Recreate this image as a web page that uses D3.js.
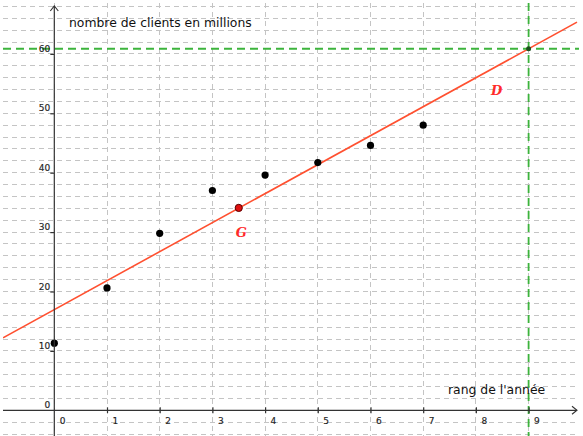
<!DOCTYPE html>
<html><head><meta charset="utf-8">
<script src="https://cdn.jsdelivr.net/npm/d3@7/dist/d3.min.js"></script>
<style>body{margin:0;background:#fff}svg{display:block}</style>
</head><body><svg id="c" width="583" height="436"></svg>
<script>
// ---- data ----
const years = [0, 1, 2, 3, 4, 5, 6, 7];
const clients = [11.3, 20.6, 29.8, 37, 39.6, 41.7, 44.6, 48];
const xTicks = [0, 1, 2, 3, 4, 5, 6, 7, 8, 9];
const yTicks = [0, 10, 20, 30, 40, 50, 60];
const lineSlope = 4.88;
const lineIntercept = 16.95;
const predictYear = 9;
const yTitle = "nombre de clients en millions";
const xTitle = "rang de l'année";

const W = 583, H = 436;
const svg = d3.select("#c");
svg.append("rect").attr("width", W).attr("height", H).attr("fill", "#fff");

const x = d3.scaleLinear().domain([0, 9]).range([54.3, 528.6]);
const y = d3.scaleLinear().domain([0, 60]).range([410.3, 53.9]);
const clipBox = {x0: 3, y0: 3, x1: 579, y1: 436};

svg.append("defs").append("clipPath").attr("id", "clip")
  .append("rect").attr("x", clipBox.x0).attr("y", clipBox.y0)
  .attr("width", clipBox.x1 - clipBox.x0).attr("height", clipBox.y1 - clipBox.y0);

const plot = svg.append("g").attr("clip-path", "url(#clip)");

// grid
const gx = d3.range(-1, 11);
const gy = d3.range(-4, 72, 2);
plot.append("g").selectAll("line").data(gy).join("line")
  .attr("x1", clipBox.x0).attr("x2", clipBox.x1)
  .attr("y1", d => y(d)).attr("y2", d => y(d))
  .attr("stroke", "#c4c4c4").attr("stroke-width", 1).attr("stroke-dasharray", "5,4")
  .attr("shape-rendering", "crispEdges");
plot.append("g").selectAll("line").data(gx).join("line")
  .attr("y1", clipBox.y0).attr("y2", clipBox.y1)
  .attr("x1", d => x(d)).attr("x2", d => x(d))
  .attr("stroke", "#c4c4c4").attr("stroke-width", 1).attr("stroke-dasharray", "5,4")
  .attr("shape-rendering", "crispEdges");

// axes lines
const axisCol = "#333";
svg.append("line").attr("x1", clipBox.x0).attr("x2", 577).attr("y1", y(0)).attr("y2", y(0))
  .attr("stroke", axisCol).attr("stroke-width", 1.2);
svg.append("path").attr("d", `M${572},${y(0)-4}L${577},${y(0)}L${572},${y(0)+4}`)
  .attr("fill", "none").attr("stroke", axisCol).attr("stroke-width", 1.1);
svg.append("line").attr("x1", x(0)).attr("x2", x(0)).attr("y1", clipBox.y1).attr("y2", 6)
  .attr("stroke", axisCol).attr("stroke-width", 1.2);
svg.append("path").attr("d", `M${x(0)-4},${11}L${x(0)},${6}L${x(0)+4},${11}`)
  .attr("fill", "none").attr("stroke", axisCol).attr("stroke-width", 1.1);

// y axis ticks & labels
const yAxis = d3.axisLeft(y).tickValues(yTicks).tickSize(4).tickPadding(4).tickFormat(d3.format("d"));
const ya = svg.append("g").attr("transform", `translate(${x(0)},0)`).call(yAxis);
ya.select(".domain").remove();
ya.selectAll(".tick line").attr("stroke", axisCol).attr("stroke-width", 1.2)
  .attr("opacity", d => d === 0 ? 0 : 1);
ya.selectAll(".tick text").attr("dy", "-2.5").attr("x", -4)
  .attr("font-family", "DejaVu Sans").attr("font-size", 9).attr("fill", "#222")
  .attr("stroke", "#222").attr("stroke-width", 0.15);

// x axis ticks & labels
const xAxis = d3.axisBottom(x).tickValues(xTicks).tickSize(0).tickPadding(0).tickFormat(d3.format("d"));
const xa = svg.append("g").attr("transform", `translate(0,${y(0)})`).call(xAxis);
xa.select(".domain").remove();
xa.selectAll(".tick line").remove();
xa.selectAll(".tick").filter(d => d !== 0).append("line")
  .attr("y1", -3).attr("y2", 3).attr("stroke", axisCol).attr("stroke-width", 1.2);
xa.selectAll(".tick text").attr("text-anchor", "start").attr("x", 5).attr("y", 14).attr("dy", 0)
  .attr("font-family", "DejaVu Sans").attr("font-size", 9).attr("fill", "#222")
  .attr("stroke", "#222").attr("stroke-width", 0.15);

// titles
svg.append("text").attr("x", 69).attr("y", 27).text(yTitle)
  .attr("font-family", "DejaVu Sans").attr("font-size", 12.4).attr("fill", "#111");
svg.append("text").attr("x", 448).attr("y", 394).text(xTitle)
  .attr("font-family", "DejaVu Sans").attr("font-size", 12.4).attr("fill", "#111");

// regression line D
const D = t => lineSlope * t + lineIntercept;
const xl0 = x.invert(clipBox.x0), xl1 = x.invert(577);
plot.append("line")
  .attr("x1", x(xl0)).attr("y1", y(D(xl0)))
  .attr("x2", x(xl1)).attr("y2", y(D(xl1)))
  .attr("stroke", "#ff5030").attr("stroke-width", 1.6);

// green guides
const py = D(predictYear);
plot.append("line").attr("x1", clipBox.x0).attr("x2", clipBox.x1).attr("y1", y(py)).attr("y2", y(py))
  .attr("stroke", "#3cb43c").attr("stroke-width", 1.8).attr("stroke-dasharray", "8,5");
plot.append("line").attr("y1", clipBox.y0).attr("y2", clipBox.y1).attr("x1", x(predictYear)).attr("x2", x(predictYear))
  .attr("stroke", "#3cb43c").attr("stroke-width", 1.8).attr("stroke-dasharray", "8,5");
plot.append("circle").attr("cx", x(predictYear)).attr("cy", y(py)).attr("r", 2.5).attr("fill", "#1e501e");

// points
const pts = years.map((t, i) => ({t, v: clients[i]}));
plot.append("g").selectAll("circle").data(pts).join("circle")
  .attr("cx", d => x(d.t)).attr("cy", d => y(d.v)).attr("r", 3.6).attr("fill", "#000");

// G mean point
const gX = d3.mean(years), gY = d3.mean(clients);
plot.append("circle").attr("cx", x(gX)).attr("cy", y(gY)).attr("r", 3.6)
  .attr("fill", "#e01010").attr("stroke", "#5a0000").attr("stroke-width", 1);

// labels
svg.append("text").attr("x", x(gX) - 3).attr("y", y(gY) + 29).text("G")
  .attr("font-family", "DejaVu Serif").attr("font-style", "italic").attr("font-weight", "bold")
  .attr("font-size", 13).attr("fill", "#ff2a2a");
svg.append("text").attr("x", 491).attr("y", 95).text("D")
  .attr("font-family", "DejaVu Serif").attr("font-style", "italic").attr("font-weight", "bold")
  .attr("font-size", 13).attr("fill", "#ff2a2a");
</script></body></html>
